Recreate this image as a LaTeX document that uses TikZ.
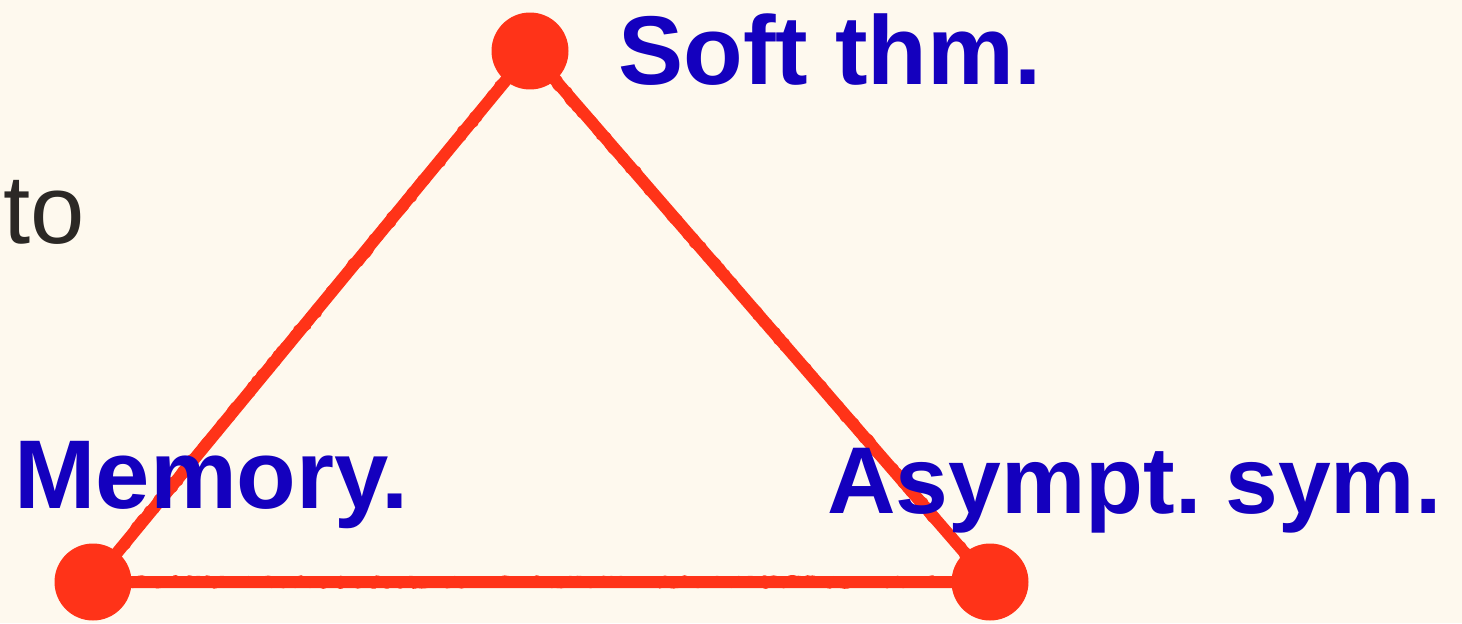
\documentclass[tikz,border=0pt]{standalone}
\usepackage{fontspec}
\setmainfont{Liberation Sans}
\usepackage{xcolor}
\usetikzlibrary{decorations.pathmorphing}
\definecolor{paperCream}{RGB}{254,249,238}
\definecolor{chalkRed}{RGB}{255,51,24}
\definecolor{labelBlue}{RGB}{20,0,190}
\definecolor{inkGray}{RGB}{43,40,37}
\tikzset{
  vertexdot/.style={circle,fill=chalkRed,inner sep=0pt,minimum size=1.54cm},
  chalkline/.style={draw=chalkRed,line width=.24cm,line cap=round,line join=round},
  chalkrough/.style={draw=chalkRed,line width=.18cm,line cap=round,line join=round,
    decorate,decoration={random steps,segment length=2pt,amplitude=1.4pt}},
  cornerlabel/.style={inner sep=0pt,anchor=base west,text=labelBlue,
    font=\fontsize{55.6}{60}\selectfont\bfseries}
}

\begin{document}
\begin{tikzpicture}[x=0.02cm,y=0.02cm]
\fill[paperCream] (0,0) rectangle (1462,623);
\useasboundingbox (0,0) rectangle (1462,623);
% the three corners
\node[vertexdot] (soft) at (530,572) {};
\node[vertexdot] (memory) at (93,41) {};
\node[vertexdot] (asympt) at (990,41) {};
% sides
\draw[chalkline] (soft.center) -- (memory.center) -- (asympt.center) -- (soft.center);
\draw[chalkrough] (soft.center) -- (memory.center);
\draw[chalkrough] (memory.center) -- (asympt.center);
\draw[chalkrough] (asympt.center) -- (soft.center);
% labels
\node[cornerlabel] (softlbl) at (618,538) {Soft thm.};
\node[cornerlabel] (memlbl) at (14,115) {Memory.};
\node[cornerlabel] (asymlbl) at (827,110) {\fontsize{54}{58}\selectfont Asympt.\hspace{-.12em} sym.};
\node[inner sep=0pt,anchor=base west,text=inkGray,font=\fontsize{55.6}{60}\selectfont] (tolbl) at (3,380) {to};
\end{tikzpicture}
\end{document}
